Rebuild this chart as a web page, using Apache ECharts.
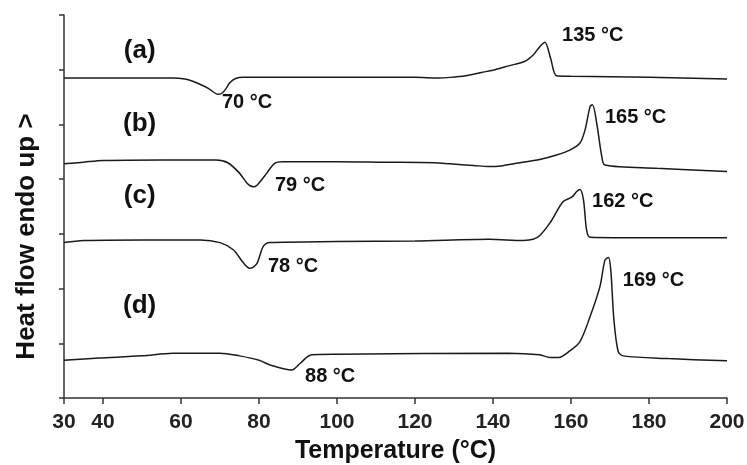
<!DOCTYPE html>
<html>
<head>
<meta charset="utf-8">
<script src="https://cdn.jsdelivr.net/npm/echarts@6/dist/echarts.min.js"></script>
<style>html,body{margin:0;padding:0;background:#fff}#chart{width:747px;height:465px}</style>
</head>
<body>
<div id="chart"></div>
<script>
// Temperature (°C) vs heat flow (arbitrary stacked units)
const curveA = [[30,5.85],[45,5.85],[58,5.85],[61,5.83],[63,5.79],[65,5.73],[67,5.66],[69.5,5.55],[70.5,5.57],[71.5,5.65],[72.5,5.76],[74,5.84],[76,5.86],[100,5.86],[120,5.86],[126,5.85],[129,5.86],[133,5.89],[137,5.95],[140,5.99],[144,6.07],[148,6.15],[150.3,6.27],[152,6.42],[153.3,6.50],[154.8,6.20],[156.3,5.89],[160,5.88],[180,5.86],[200,5.83]];
const curveB = [[30,4.28],[35,4.31],[40,4.34],[55,4.35],[69,4.35],[72,4.30],[75,4.11],[77,3.92],[78.5,3.86],[79.5,3.89],[82,4.11],[84,4.29],[86,4.32],[100,4.32],[112,4.31],[125,4.30],[129,4.28],[135,4.25],[139,4.23],[142,4.24],[146,4.29],[152,4.36],[156.3,4.44],[159.7,4.53],[162.3,4.66],[163.6,4.90],[164.9,5.33],[165.5,5.36],[166.6,5.02],[167.9,4.41],[168.7,4.26],[182,4.20],[200,4.14]];
const curveC = [[30,2.84],[35,2.88],[50,2.89],[65,2.89],[70,2.84],[73.4,2.71],[76,2.47],[77.7,2.37],[79.4,2.45],[81.1,2.77],[82.8,2.84],[100,2.86],[120,2.87],[139,2.90],[147.8,2.88],[150.3,2.90],[152,2.97],[154.6,3.20],[158,3.59],[160.2,3.67],[161.4,3.77],[162.3,3.81],[163.2,3.62],[164,3.07],[164.9,2.94],[180,2.93],[200,2.93]];
const curveD = [[30,0.69],[39,0.73],[50,0.77],[58,0.82],[70,0.82],[75,0.77],[80,0.69],[83,0.60],[88.4,0.51],[90.5,0.63],[93.5,0.79],[100,0.80],[144,0.82],[152,0.79],[154.6,0.74],[156.8,0.74],[159.7,0.86],[162.3,1.03],[164.9,1.49],[167.4,2.03],[168.7,2.52],[169.6,2.57],[170.2,2.34],[171,1.43],[172.1,0.85],[173.4,0.77],[185,0.72],[200,0.68]];
const xTicks = [30,40,60,80,100,120,140,160,180,200];
const curveLabels = [[49.4,6.34,'(a)'],[49.4,5.01,'(b)'],[49.4,3.69,'(c)'],[49.4,1.68,'(d)']];
const peakLabels = [[70.5,5.41,'70 °C'],[84.1,3.89,'79 °C'],[82.3,2.41,'78 °C'],[91.8,0.40,'88 °C'],[157.7,6.63,'135 °C'],[168.7,5.12,'165 °C'],[165.4,3.60,'162 °C'],[173.3,2.14,'169 °C']];

const FONT = '"Liberation Sans", Arial, sans-serif';
const TEXT = '#111';
const lineStyle = {color:'#1a1a1a', width:1.5};
function curve(name, data){
  return {name, type:'line', data, showSymbol:false, smooth:0.3, lineStyle, silent:true};
}
const chart = echarts.init(document.getElementById('chart'), null, {renderer:'canvas'});
chart.setOption({
  animation:false,
  backgroundColor:'#fff',
  grid:{left:64, right:20, top:15, bottom:67, containLabel:false, outerBoundsMode:'none'},
  xAxis:{
    type:'value', min:30, max:200,
    name:'Temperature (°C)', nameLocation:'middle', nameGap:41,
    nameTextStyle:{fontFamily:FONT, fontWeight:'bold', fontSize:25, color:TEXT},
    axisLine:{lineStyle:{color:'#333', width:1.5}},
    axisTick:{show:true, length:6, lineStyle:{color:'#333', width:1.5}, customValues:xTicks},
    axisLabel:{fontFamily:FONT, fontWeight:'bold', fontSize:21, color:'#222', margin:14, customValues:xTicks},
    splitLine:{show:false}
  },
  yAxis:{
    type:'value', min:0, max:7, interval:1,
    name:'Heat flow endo up >', nameLocation:'middle', nameGap:24, nameRotate:90,
    nameTextStyle:{fontFamily:FONT, fontWeight:'bold', fontSize:26, color:TEXT, padding:[0,60,0,0]},
    axisLine:{show:true, lineStyle:{color:'#333', width:1.5}},
    axisTick:{show:true, length:5, lineStyle:{color:'#333', width:1.5}},
    axisLabel:{show:false},
    splitLine:{show:false}
  },
  series:[
    curve('a', curveA), curve('b', curveB), curve('c', curveC), curve('d', curveD),
    {type:'scatter', data:curveLabels, symbolSize:0, silent:true, itemStyle:{opacity:1},
     label:{show:true, opacity:1, position:'inside', formatter:p=>p.data[2], fontFamily:FONT, fontWeight:'bold', fontSize:26, color:TEXT}},
    {type:'scatter', data:peakLabels, symbolSize:0, silent:true, itemStyle:{opacity:1},
     label:{show:true, opacity:1, position:'right', distance:0, formatter:p=>p.data[2], fontFamily:FONT, fontWeight:'bold', fontSize:20, color:TEXT}}
  ]
});
</script>
</body>
</html>
